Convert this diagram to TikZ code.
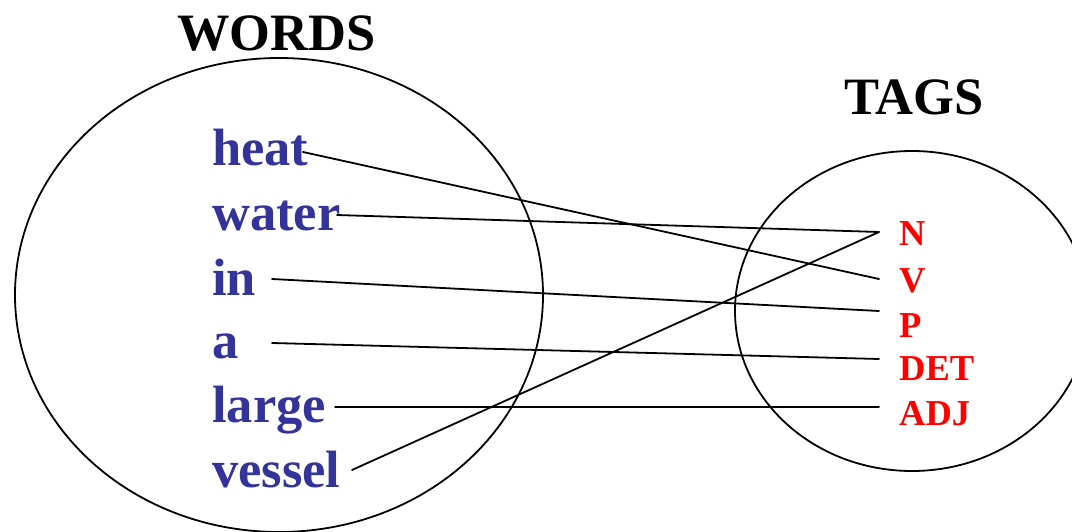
\documentclass[tikz,border=0pt]{standalone}
\usepackage{fontspec}
\setmainfont{Liberation Serif}
\usetikzlibrary{calc}
\definecolor{wordblue}{RGB}{51,51,153}
\definecolor{tagred}{RGB}{255,0,0}
\begin{document}
\begin{tikzpicture}[x=1pt,y=-1pt,
  title/.style={font=\fontsize{52.5}{52.5}\selectfont\bfseries, inner sep=0pt, anchor=base west},
  word/.style={font=\fontsize{52.5}{52.5}\selectfont\bfseries, text=wordblue, inner sep=0pt, anchor=base west},
  tag/.style={font=\fontsize{36.5}{36.5}\selectfont\bfseries, text=tagred, inner sep=0pt, anchor=base west},
  set/.style={line width=1.8pt},
  link/.style={line width=1.8pt, line cap=round}]
\useasboundingbox (0,0) rectangle (1072,532);
\clip (0,0) rectangle (1072,532);
\fill[white] (0,0) rectangle (1072,532);
% sets
\draw[set] (279,295) ellipse [x radius=264pt, y radius=237pt];
\draw[set] (912,311) ellipse [x radius=177pt, y radius=160pt];
% titles
\node[title] (words) at (177,51) {WORDS};
\node[title] (tags) at (844,115) {TAGS};
% words
\node[word] (heat) at (212,166) {heat};
\node[word] (water) at (212,230) {water};
\node[word] (in) at (212,295) {in};
\node[word] (a) at (212,358) {a};
\node[word] (large) at (212,422) {large};
\node[word] (vessel) at (212,487) {vessel};
% tags
\node[tag] (N) at (899,246) {N};
\node[tag] (V) at (899,292) {V};
\node[tag] (P) at (899,337) {P};
\node[tag] (DET) at (899,380) {DET};
\node[tag] (ADJ) at (899,425) {ADJ};
% connector ends
\coordinate (heatR) at (303,152);
\coordinate (waterR) at (337,215);
\coordinate (inR) at (272,279);
\coordinate (aR) at (272,343);
\coordinate (largeR) at (335,407);
\coordinate (vesselR) at (352,470);
\coordinate (NL) at (879,232);
\coordinate (VL) at (879,279);
\coordinate (PL) at (879,311);
\coordinate (DETL) at (879,359);
\coordinate (ADJL) at (879,407);
% connectors
\draw[link] (heatR) -- (VL);
\draw[link] (waterR) -- (NL);
\draw[link] (inR) -- (PL);
\draw[link] (aR) -- (DETL);
\draw[link] (largeR) -- (ADJL);
\draw[link] (vesselR) -- (NL);
\end{tikzpicture}
\end{document}
